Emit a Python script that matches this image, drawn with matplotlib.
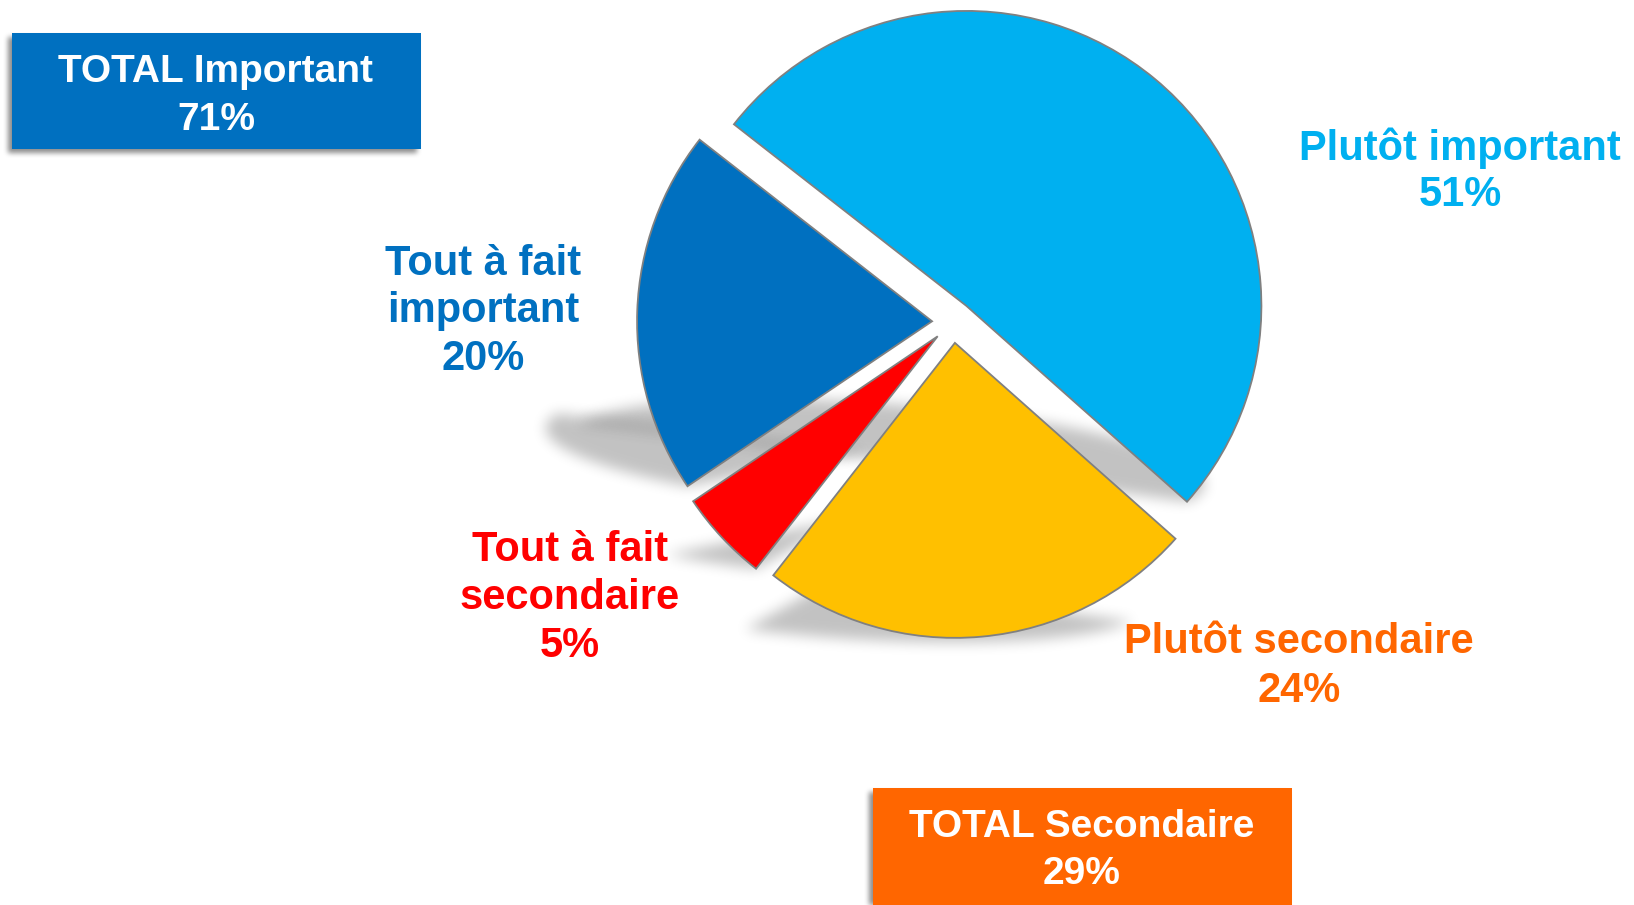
import numpy as np
import matplotlib
matplotlib.use('Agg')
import matplotlib.pyplot as plt
from matplotlib.patches import Rectangle, Wedge
from matplotlib.transforms import Affine2D

# ---- data ----
categories = ['Plutôt important', 'Plutôt secondaire', 'Tout à fait secondaire', 'Tout à fait important']
values = [51, 24, 5, 20]
slice_colors = ['#00B0F0', '#FFC000', '#FF0000', '#0070C0']
label_colors = ['#00B0F0', '#FF6600', '#FF0000', '#0070C0']
label_lines = [['Plutôt important'], ['Plutôt secondaire'], ['Tout à fait', 'secondaire'], ['Tout à fait', 'important']]
totals_labels = ['TOTAL Important', 'TOTAL Secondaire']
totals_values = [71, 29]
totals_colors = ['#0070C0', '#FF6600']

FONT = ['Liberation Sans', 'DejaVu Sans']
W, H = 1634, 905
fig = plt.figure(figsize=(W / 100, H / 100), dpi=100)
fig.patch.set_facecolor('white')


def box_blur(a, r, axis):
    c = np.cumsum(a, axis=axis)
    c = np.insert(c, 0, 0, axis=axis)
    n = a.shape[axis]
    idx = np.arange(n)
    lo = np.clip(idx - r, 0, n)
    hi = np.clip(idx + r + 1, 0, n)
    return (np.take(c, hi, axis=axis) - np.take(c, lo, axis=axis)) / (2 * r + 1)


class SoftShadow:
    def __init__(self, r=6, alpha=0.22):
        self.r = r
        self.alpha = alpha

    def __call__(self, im, dpi):
        pad = 3 * self.r + 2
        a = np.pad(im[..., 3], pad)
        for _ in range(3):
            a = box_blur(a, self.r, 0)
            a = box_blur(a, self.r, 1)
        out = np.zeros(a.shape + (4,))
        out[..., 3] = np.clip(a * self.alpha, 0, 1)
        return out, -pad, -pad


def px_axes(cx, cy, hw, hh, z=0):
    a = fig.add_axes([(cx - hw) / W, 1 - (cy + hh) / H, 2 * hw / W, 2 * hh / H])
    a.set_zorder(z)
    return a


# ---- main pie ----
R = 295
ax = px_axes(953, 322, 1.2 * R, 1.2 * R, z=1)
wedges, _ = ax.pie(values, startangle=142, counterclock=False, explode=[0.071] * len(values),
                   colors=slice_colors, wedgeprops=dict(edgecolor='#808080', linewidth=1.3))
for w in wedges:
    w.set_zorder(2)

# perspective shadow for each slice: flattened onto the slice's lowest point, skewed to the upper left
SKEW, SQUASH = 0.41, 0.21
for w in wedges:
    verts = w.get_patch_transform().transform(w.get_path().vertices)
    yb = verts[:, 1].min()
    m = np.array([[1.0, -SKEW, SKEW * yb],
                  [0.0, SQUASH, yb * (1 - SQUASH)],
                  [0.0, 0.0, 1.0]])
    sh = Wedge(w.center, w.r, w.theta1, w.theta2, facecolor='black', edgecolor='none',
               transform=Affine2D(m) + ax.transData, zorder=0.5)
    sh.set_clip_on(False)
    sh.set_agg_filter(SoftShadow(r=6, alpha=0.24))
    ax.add_patch(sh)

ax.set_xlim(-1.2, 1.2)
ax.set_ylim(-1.2, 1.2)
ax.axis('off')

# ---- slice labels ----
label_pos = [(1460, [160, 206]), (1299, [653, 702]), (570, [561, 609, 657]), (483, [275, 322, 370])]
for lines, v, col, (x, ys) in zip(label_lines, values, label_colors, label_pos):
    for s, y in zip(lines + [f'{v}%'], ys):
        fig.text(x / W, 1 - y / H, s, ha='center', va='baseline', fontsize=30,
                 fontweight='bold', color=col, family=FONT, zorder=5)

# ---- total boxes ----
boxes = [(12, 33, 421, 149), (873, 788, 1292, 910)]
box_text = [(216, [82, 130]), (1082, [837, 884])]
for (x0, y0, x1, y1), lab, val, col, (tx, tys) in zip(boxes, totals_labels, totals_values, totals_colors, box_text):
    shadow = Rectangle(((x0 - 4) / W, 1 - (y1 + 4) / H), (x1 - x0) / W, (y1 - y0) / H,
                       transform=fig.transFigure, facecolor='black', edgecolor='none', zorder=2)
    shadow.set_agg_filter(SoftShadow(r=2, alpha=0.45))
    fig.patches.append(shadow)
    fig.patches.append(Rectangle((x0 / W, 1 - y1 / H), (x1 - x0) / W, (y1 - y0) / H,
                                 transform=fig.transFigure, facecolor=col,
                                 edgecolor='none', zorder=3))
    for s, y in zip([lab, f'{val}%'], tys):
        fig.text(tx / W, 1 - y / H, s, ha='center', va='baseline', fontsize=28,
                 fontweight='bold', color='white', family=FONT, zorder=6)

fig.savefig('out.png', dpi=100, facecolor='white')
